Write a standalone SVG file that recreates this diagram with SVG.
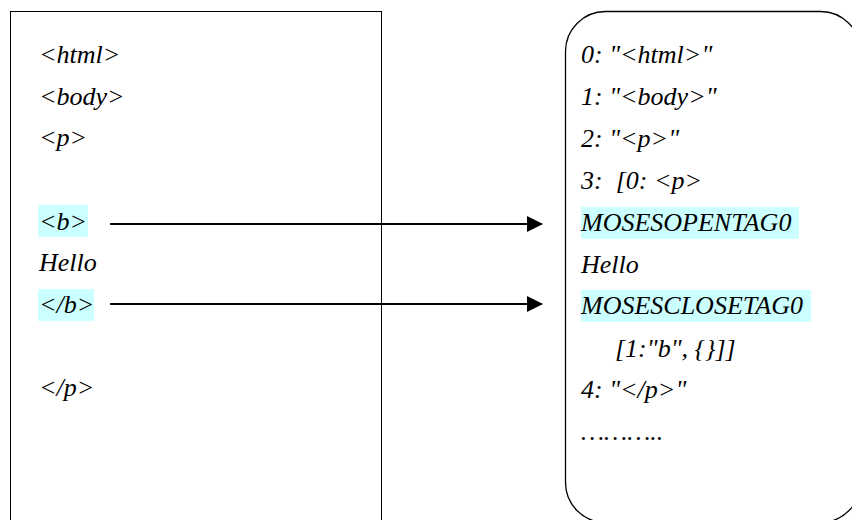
<svg xmlns="http://www.w3.org/2000/svg" width="852" height="520" viewBox="0 0 852 520">
  <style>
    .hl { fill: #ccffff; }
    .box { fill: #fff; stroke: #000; }
    .conn { stroke: #000; stroke-width: 2; fill: none; }
  </style>
  <defs>
    <marker id="arrow" viewBox="0 0 16 16" refX="15" refY="8" markerWidth="16" markerHeight="16" markerUnits="userSpaceOnUse" orient="auto">
      <path d="M0,0 L16,8 L0,16 Z" fill="#000"/>
    </marker>
  </defs>
  <rect width="852" height="520" fill="#fff"/>

  <g id="html-source">
    <rect class="box" x="10.5" y="11.5" width="371" height="520" stroke-width="1"/>
    <rect class="hl" x="38" y="205" width="50" height="32"/>
    <rect class="hl" x="38" y="289" width="56" height="32"/>
    <g font-family="Liberation Serif, Times New Roman, serif" font-style="italic" font-size="26">
      <text x="39" y="63">&lt;html&gt;</text>
      <text x="39" y="105">&lt;body&gt;</text>
      <text x="39" y="146">&lt;p&gt;</text>
      <text x="39" y="230">&lt;b&gt;</text>
      <text x="39" y="271">Hello</text>
      <text x="39" y="313">&lt;/b&gt;</text>
      <text x="39" y="396">&lt;/p&gt;</text>
    </g>
  </g>

  <g id="token-list">
    <rect class="box" x="565.5" y="11.5" width="295" height="511" rx="40" ry="40" stroke-width="1.3"/>
    <rect class="hl" x="581" y="207" width="218" height="32"/>
    <rect class="hl" x="581" y="290" width="230" height="32"/>
    <g font-family="Liberation Serif, Times New Roman, serif" font-style="italic" font-size="26">
      <text x="581" y="63">0: "&lt;html&gt;"</text>
      <text x="581" y="105">1: "&lt;body&gt;"</text>
      <text x="581" y="147">2: "&lt;p&gt;"</text>
      <text x="581" y="189" xml:space="preserve">3:  [0: &lt;p&gt;</text>
      <text x="581" y="231">MOSESOPENTAG0</text>
      <text x="581" y="273">Hello</text>
      <text x="581" y="314">MOSESCLOSETAG0</text>
      <text x="615" y="357">[1:"b", {}]]</text>
      <text x="581" y="398">4: "&lt;/p&gt;"</text>
      <text x="581" y="440">………..</text>
    </g>
  </g>

  <g id="connectors">
    <line class="conn" x1="110" y1="224" x2="542" y2="224" marker-end="url(#arrow)"/>
    <line class="conn" x1="110" y1="304" x2="542" y2="304" marker-end="url(#arrow)"/>
  </g>
</svg>
